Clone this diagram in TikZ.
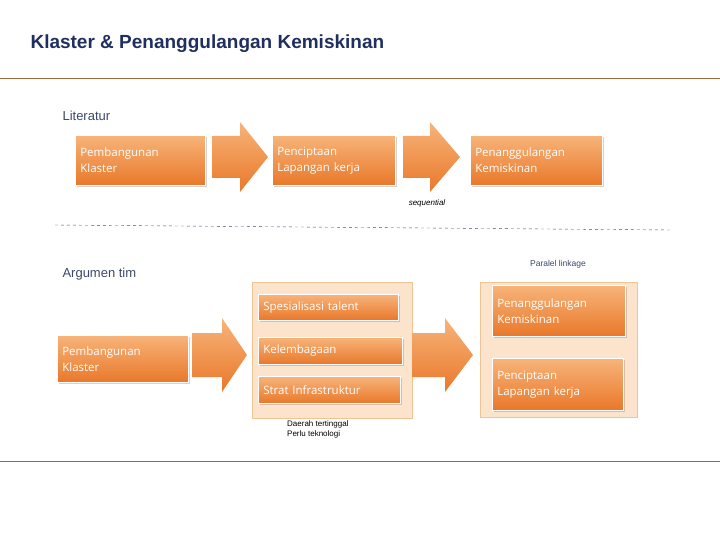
\documentclass[tikz,border=0pt]{standalone}
\usepackage{fontspec}
\setmainfont{Liberation Sans}
\newfontfamily\boxfont{Open Sans}
\usetikzlibrary{shadows}
\definecolor{otop}{HTML}{F7B47A}
\definecolor{obot}{HTML}{E9782A}
\definecolor{panel}{HTML}{FCE3CB}
\definecolor{panelb}{HTML}{F1C496}
\definecolor{titleblue}{HTML}{1F2F5F}
\definecolor{rule}{HTML}{9C6A3C}
\tikzset{
  obox/.style 2 args={draw=white,line width=0.6pt,top color=otop,bottom color=obot,text=white,
    font=\boxfont\fontsize{11.5}{16}\selectfont,align=left,anchor=north west,inner xsep=5pt,inner ysep=3pt,
    text width=#1-10pt,minimum height=#2,
    drop shadow={opacity=0.35,shadow xshift=1.5pt,shadow yshift=-1.5pt}},
  oarr/.style={top color=otop,bottom color=obot,draw=none},
  pan/.style={draw=panelb,fill=panel,anchor=north west},
  lbl/.style={anchor=west,font=\fontsize{13}{15}\selectfont,text=titleblue!70!gray}
}
% x0 x1 xhead yc halfshaft halfhead
\newcommand\myarrow[6]{\path[oarr] (#1,#4-#5) -- (#3,#4-#5) -- (#3,#4-#6) -- (#2,#4) -- (#3,#4+#6) -- (#3,#4+#5) -- (#1,#4+#5) -- cycle;}
\begin{document}
\begin{tikzpicture}[x=1pt,y=-1pt]
\useasboundingbox (0,0) rectangle (720,540);
\node[anchor=west,font=\bfseries\fontsize{19}{22}\selectfont,text=titleblue] (title) at (27,44) {Klaster \& Penanggulangan Kemiskinan};
\draw[rule,line width=0.8pt] (0,78) -- (720,78);
\draw[rule,line width=0.8pt] (0,461) -- (720,461);

\node[lbl] (lit) at (59,116) {Literatur};
\node[obox={130pt}{50pt}] (b1) at (75,135) {Pembangunan\\Klaster};
\myarrow{212}{268}{240}{157}{21}{35}
\node[obox={123pt}{50pt}] (b2) at (272,135) {Penciptaan\\Lapangan kerja};
\myarrow{403}{460}{430}{157}{21}{35}
\node[obox={132pt}{50pt}] (b3) at (470,135) {Penanggulangan\\Kemiskinan};
\node[font=\itshape\fontsize{8}{10}\selectfont] (seq) at (427,203) {sequential};
\draw[dashed,color=titleblue!60!gray] (55,225) -- (670,230);

\node[font=\fontsize{8.5}{10}\selectfont,text=titleblue!70!gray] (par) at (558,264) {Paralel linkage};
\node[lbl] (arg) at (59,274) {Argumen tim};

\node[pan,minimum width=160pt,minimum height=136pt] (p1) at (252,282) {};
\node[pan,minimum width=157pt,minimum height=135pt] (p2) at (480,282) {};

\node[obox={131pt}{47pt}] (c1) at (57,335) {Pembangunan\\Klaster};
\myarrow{192}{247}{222}{355}{22}{37}
\node[obox={140pt}{26pt}] (s1) at (258,294) {Spesialisasi talent};
\node[obox={144pt}{27pt}] (s2) at (258,337) {Kelembagaan};
\node[obox={142pt}{27pt}] (s3) at (258,376) {Strat Infrastruktur};
\myarrow{412}{473}{445}{355}{22}{37}
\node[obox={133pt}{51pt}] (r1) at (492,285) {Penanggulangan\\Kemiskinan};
\node[obox={131pt}{52pt}] (r2) at (492,358) {Penciptaan\\Lapangan kerja};
\node[anchor=north west,align=left,font=\fontsize{8}{10}\selectfont,inner sep=0pt] (d) at (287,421) {Daerah tertinggal\\Perlu teknologi};
\end{tikzpicture}
\end{document}
